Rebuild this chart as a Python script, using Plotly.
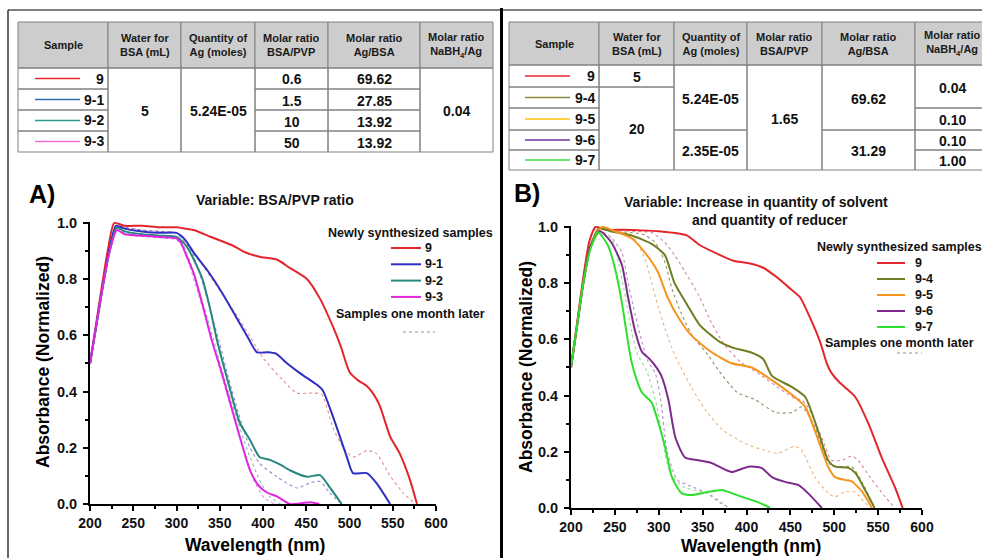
import plotly.graph_objects as go

W, H = 982, 558
FONT = "Liberation Sans"

# ---------------- Panel A spectra (Variable: BSA/PVP ratio) ----------------
wl_a9 = [200, 207, 214, 221, 228, 240, 260, 280, 300, 310, 320, 340, 365, 380, 396, 416, 431, 451, 466, 481, 490, 500, 510, 520, 528, 535, 547, 558, 570, 578]
ab_a9 = [0.50, 0.64, 0.78, 0.91, 1.00, 0.99, 0.99, 0.985, 0.985, 0.98, 0.975, 0.95, 0.92, 0.895, 0.88, 0.87, 0.84, 0.80, 0.73, 0.63, 0.56, 0.47, 0.44, 0.42, 0.39, 0.35, 0.24, 0.18, 0.085, 0.0]

wl_a91 = [200, 207, 214, 222, 230, 240, 260, 280, 300, 305, 310, 321, 336, 353, 368, 383, 393, 405, 415, 428, 443, 462, 469, 481, 497, 504, 520, 531, 547]
ab_a91 = [0.50, 0.63, 0.76, 0.90, 0.99, 0.98, 0.97, 0.965, 0.965, 0.955, 0.94, 0.89, 0.83, 0.75, 0.67, 0.59, 0.54, 0.54, 0.535, 0.50, 0.465, 0.425, 0.405, 0.31, 0.167, 0.11, 0.11, 0.075, 0.0]

wl_a92 = [200, 207, 214, 222, 231, 240, 260, 280, 300, 308, 313, 320, 330, 340, 347, 360, 373, 385, 396, 408, 420, 431, 451, 466, 477, 491]
ab_a92 = [0.50, 0.63, 0.76, 0.89, 0.985, 0.97, 0.96, 0.955, 0.95, 0.93, 0.91, 0.87, 0.80, 0.68, 0.58, 0.43, 0.29, 0.228, 0.167, 0.157, 0.14, 0.12, 0.097, 0.103, 0.06, 0.0]

wl_a93 = [200, 207, 214, 222, 231, 240, 260, 280, 300, 305, 312, 320, 330, 341, 352, 363, 374, 385, 395, 405, 416, 431, 445, 455, 465]
ab_a93 = [0.50, 0.63, 0.76, 0.89, 0.975, 0.96, 0.955, 0.95, 0.945, 0.93, 0.88, 0.82, 0.71, 0.58, 0.47, 0.35, 0.23, 0.12, 0.065, 0.04, 0.027, 0.0, 0.003, 0.006, 0.0]

# one month later
wl_a9d = [200, 207, 214, 221, 228, 240, 260, 280, 300, 310, 330, 350, 370, 390, 400, 423, 439, 458, 468, 481, 493, 504, 520, 531, 547, 562, 576]
ab_a9d = [0.50, 0.64, 0.78, 0.91, 1.00, 0.985, 0.975, 0.97, 0.965, 0.93, 0.85, 0.76, 0.67, 0.57, 0.52, 0.44, 0.395, 0.395, 0.39, 0.27, 0.20, 0.167, 0.19, 0.18, 0.10, 0.04, 0.0]

wl_a91d = [200, 207, 214, 222, 230, 240, 260, 280, 300, 310, 320, 330, 340, 350, 360, 372, 385, 396, 416, 439, 454, 466, 477, 491]
ab_a91d = [0.50, 0.63, 0.76, 0.90, 0.99, 0.985, 0.975, 0.97, 0.965, 0.94, 0.88, 0.79, 0.68, 0.57, 0.45, 0.32, 0.20, 0.145, 0.097, 0.057, 0.075, 0.08, 0.04, 0.0]

wl_a92d = [200, 207, 214, 222, 231, 240, 260, 280, 300, 308, 316, 326, 336, 345, 355, 368, 381, 396, 408, 420]
ab_a92d = [0.50, 0.63, 0.76, 0.89, 0.98, 0.965, 0.955, 0.95, 0.945, 0.92, 0.86, 0.76, 0.66, 0.56, 0.45, 0.32, 0.20, 0.085, 0.025, 0.0]

wl_a93d = [200, 207, 214, 222, 231, 240, 260, 280, 300, 306, 314, 324, 334, 343, 352, 364, 378, 390, 402, 414]
ab_a93d = [0.50, 0.63, 0.76, 0.89, 0.975, 0.96, 0.952, 0.948, 0.94, 0.92, 0.86, 0.76, 0.66, 0.56, 0.46, 0.33, 0.19, 0.08, 0.02, 0.0]

# ---------------- Panel B spectra (solvent / reducer) ----------------
wl_b9 = [200, 207, 214, 221, 228, 240, 260, 280, 300, 315, 332, 347, 370, 385, 404, 419, 435, 450, 461, 472, 484, 492, 497, 505, 512, 524, 539, 554, 569, 578]
ab_b9 = [0.50, 0.66, 0.82, 0.95, 1.00, 0.99, 0.99, 0.988, 0.985, 0.98, 0.97, 0.935, 0.90, 0.88, 0.87, 0.855, 0.82, 0.78, 0.75, 0.68, 0.59, 0.51, 0.48, 0.45, 0.43, 0.395, 0.30, 0.18, 0.075, 0.0]

wl_b94 = [200, 207, 214, 222, 232, 245, 269, 292, 307, 318, 333, 347, 370, 385, 404, 419, 429, 452, 467, 482, 493, 501, 516, 524, 535, 546]
ab_b94 = [0.50, 0.65, 0.80, 0.93, 0.995, 0.985, 0.97, 0.94, 0.90, 0.80, 0.72, 0.65, 0.59, 0.57, 0.555, 0.53, 0.47, 0.43, 0.395, 0.27, 0.17, 0.147, 0.143, 0.125, 0.065, 0.0]

wl_b95 = [200, 207, 214, 222, 235, 250, 269, 284, 299, 310, 322, 337, 360, 383, 406, 429, 455, 467, 482, 493, 501, 512, 520, 532, 543]
ab_b95 = [0.50, 0.65, 0.80, 0.93, 1.00, 0.985, 0.96, 0.91, 0.84, 0.75, 0.68, 0.615, 0.555, 0.515, 0.50, 0.455, 0.395, 0.36, 0.24, 0.147, 0.11, 0.10, 0.095, 0.057, 0.0]

wl_b96 = [200, 207, 214, 222, 233, 246, 258, 265, 273, 281, 288, 295, 303, 311, 319, 330, 345, 360, 383, 402, 417, 429, 444, 459, 470, 486]
ab_b96 = [0.50, 0.65, 0.80, 0.93, 0.985, 0.945, 0.865, 0.75, 0.63, 0.555, 0.535, 0.51, 0.47, 0.385, 0.25, 0.18, 0.17, 0.16, 0.128, 0.147, 0.143, 0.11, 0.093, 0.082, 0.053, 0.0]

wl_b97 = [200, 207, 214, 222, 231, 242, 250, 258, 265, 269, 275, 281, 292, 299, 307, 315, 326, 338, 356, 372, 383, 398, 413, 427]
ab_b97 = [0.50, 0.65, 0.80, 0.92, 0.98, 0.935, 0.855, 0.73, 0.59, 0.52, 0.455, 0.41, 0.375, 0.31, 0.22, 0.11, 0.053, 0.046, 0.057, 0.064, 0.053, 0.036, 0.021, 0.0]

# one month later
wl_b9d = [200, 207, 214, 221, 229, 245, 270, 292, 307, 318, 330, 345, 360, 375, 393, 413, 440, 455, 463, 470, 486, 497, 509, 520, 527, 543, 558, 569]
ab_b9d = [0.50, 0.66, 0.82, 0.95, 1.00, 0.99, 0.985, 0.98, 0.945, 0.90, 0.84, 0.76, 0.66, 0.58, 0.52, 0.48, 0.42, 0.39, 0.385, 0.36, 0.25, 0.17, 0.17, 0.185, 0.17, 0.10, 0.04, 0.0]

wl_b94d = [200, 207, 214, 222, 232, 250, 268, 281, 296, 307, 315, 326, 338, 356, 368, 390, 410, 433, 452, 463, 478, 493, 504, 520, 532, 546]
ab_b94d = [0.50, 0.65, 0.80, 0.93, 0.995, 0.985, 0.98, 0.975, 0.945, 0.875, 0.78, 0.69, 0.615, 0.545, 0.49, 0.41, 0.385, 0.34, 0.34, 0.36, 0.29, 0.16, 0.147, 0.147, 0.09, 0.0]

wl_b95d = [200, 207, 214, 222, 235, 250, 269, 284, 292, 299, 307, 315, 322, 337, 353, 372, 398, 421, 436, 455, 463, 478, 493, 501, 512, 524, 535, 543]
ab_b95d = [0.50, 0.65, 0.80, 0.93, 1.00, 0.985, 0.97, 0.89, 0.80, 0.72, 0.64, 0.57, 0.52, 0.43, 0.35, 0.28, 0.23, 0.205, 0.195, 0.22, 0.205, 0.11, 0.053, 0.04, 0.057, 0.057, 0.018, 0.0]

wl_b96d = [200, 207, 214, 222, 233, 245, 258, 265, 273, 281, 288, 296, 303, 309, 321, 339, 355, 370, 381]
ab_b96d = [0.50, 0.65, 0.80, 0.93, 0.985, 0.965, 0.91, 0.80, 0.69, 0.59, 0.52, 0.48, 0.37, 0.21, 0.10, 0.075, 0.053, 0.018, 0.0]

wl_b97d = [200, 207, 214, 222, 231, 246, 254, 262, 269, 276, 286, 298, 305, 313, 328, 355, 373, 380]
ab_b97d = [0.50, 0.65, 0.80, 0.92, 0.98, 0.96, 0.875, 0.75, 0.63, 0.545, 0.49, 0.36, 0.23, 0.125, 0.075, 0.053, 0.018, 0.0]

# ---------------- Tables ----------------
table_headers = ["Sample", "Water for<br>BSA (mL)", "Quantity of<br>Ag (moles)",
                 "Molar ratio<br>BSA/PVP", "Molar ratio<br>Ag/BSA", "Molar ratio<br>NaBH<sub>4</sub>/Ag"]

samples_a = ["9", "9-1", "9-2", "9-3"]
swatch_a = ["#e8262c", "#2e6db4", "#2a9d96", "#f26bd0"]
water_a = "5"
quantity_a = "5.24E-05"
bsa_pvp_a = ["0.6", "1.5", "10", "50"]
ag_bsa_a = ["69.62", "27.85", "13.92", "13.92"]
nabh4_a = "0.04"

samples_b = ["9", "9-4", "9-5", "9-6", "9-7"]
swatch_b = ["#e8262c", "#8c8c3c", "#ffc000", "#7030a0", "#33e033"]
water_b = [("5", 0, 1), ("20", 1, 5)]
quantity_b = [("5.24E-05", 0, 3), ("2.35E-05", 3, 5)]
bsa_pvp_b = [("1.65", 0, 5)]
ag_bsa_b = [("69.62", 0, 3), ("31.29", 3, 5)]
nabh4_b = [("0.04", 0, 2), ("0.10", 2, 3), ("0.10", 3, 4), ("1.00", 4, 5)]

fig = go.Figure()


def px(x):
    return x / W


def py(y):
    return 1 - y / H


def text(x, y, s, size, anchor="center", color="#111111", angle=0):
    fig.add_annotation(x=px(x), y=py(y), xref="paper", yref="paper", text="<b>" + s + "</b>",
                       showarrow=False, xanchor=anchor, yanchor="middle", textangle=angle,
                       font=dict(family=FONT, size=size, color=color))


def seg(x0, y0, x1, y1, color="black", width=1, dash="solid"):
    fig.add_shape(type="line", xref="paper", yref="paper", x0=px(x0), y0=py(y0), x1=px(x1), y1=py(y1),
                  line=dict(color=color, width=width, dash=dash))


def box(x0, y0, x1, y1, fill=None):
    fig.add_shape(type="rect", xref="paper", yref="paper", x0=px(x0), y0=py(y0), x1=px(x1), y1=py(y1),
                  line=dict(color="#808080", width=1), fillcolor=fill if fill else "rgba(0,0,0,0)", layer="below")


def draw_table(cols, rows, samples, swatches, sw_x, columns):
    # header
    for i, h in enumerate(table_headers):
        box(cols[i], rows[0], cols[i + 1], rows[1], fill="#cdcdcd")
        cx = (cols[i] + cols[i + 1]) / 2
        text(cx, (rows[0] + rows[1]) / 2, h, 11, color="#1a1a1a")
    # sample column
    for r, (s, c) in enumerate(zip(samples, swatches)):
        y0, y1 = rows[r + 1], rows[r + 2]
        box(cols[0], y0, cols[1], y1)
        ym = (y0 + y1) / 2
        seg(sw_x[0], ym, sw_x[1], ym, color=c, width=1.5)
        text(cols[1] - 2, ym, s, 14, anchor="right")
    # remaining columns with merged cells
    for ci, cells in enumerate(columns, start=1):
        for (s, r0, r1) in cells:
            y0, y1 = rows[r0 + 1], rows[r1 + 1]
            box(cols[ci], y0, cols[ci + 1], y1)
            text((cols[ci] + cols[ci + 1]) / 2, (y0 + y1) / 2 + 1, s, 14)


n_a = len(samples_a)
draw_table([18, 108, 181, 255, 328, 420, 493], [22, 68, 89, 110, 131, 152], samples_a, swatch_a, (35, 80),
           [[(water_a, 0, n_a)], [(quantity_a, 0, n_a)],
            [(v, i, i + 1) for i, v in enumerate(bsa_pvp_a)],
            [(v, i, i + 1) for i, v in enumerate(ag_bsa_a)],
            [(nabh4_a, 0, n_a)]])
draw_table([509, 599, 674, 747, 822, 915, 990], [22, 65, 87, 108, 130, 150, 170], samples_b, swatch_b, (525, 570),
           [water_b, quantity_b, bsa_pvp_b, ag_bsa_b, nabh4_b])

# ---------------- Spectra ----------------
def curve(xa, ya, x, y, color, width, dash="solid"):
    fig.add_trace(go.Scatter(x=x, y=y, mode="lines", xaxis=xa, yaxis=ya, showlegend=False, hoverinfo="skip",
                             line=dict(color=color, width=width, dash=dash, shape="spline", smoothing=0.6)))


cols_a = {"9": "#e3262b", "9-1": "#2f2fc4", "9-2": "#26877c", "9-3": "#e026e0"}
dots_a = {"9": "#e69090", "9-1": "#8888d6", "9-2": "#80c0b6", "9-3": "#e690e6"}
cols_b = {"9": "#e3262b", "9-4": "#6f7d23", "9-5": "#f7941d", "9-6": "#7d2b8b", "9-7": "#2ee02e"}
dots_b = {"9": "#d8879f", "9-4": "#8e9466", "9-5": "#ebb57a", "9-6": "#b98cc8", "9-7": "#8fdf8f"}

series_a = {"9": (wl_a9, ab_a9, wl_a9d, ab_a9d), "9-1": (wl_a91, ab_a91, wl_a91d, ab_a91d),
            "9-2": (wl_a92, ab_a92, wl_a92d, ab_a92d), "9-3": (wl_a93, ab_a93, wl_a93d, ab_a93d)}
series_b = {"9": (wl_b9, ab_b9, wl_b9d, ab_b9d), "9-4": (wl_b94, ab_b94, wl_b94d, ab_b94d),
            "9-5": (wl_b95, ab_b95, wl_b95d, ab_b95d), "9-6": (wl_b96, ab_b96, wl_b96d, ab_b96d),
            "9-7": (wl_b97, ab_b97, wl_b97d, ab_b97d)}

for k, (x, y, xd, yd) in series_a.items():
    curve("x", "y", xd, yd, dots_a[k], 1.1, "dot")
for k, (x, y, xd, yd) in series_b.items():
    curve("x2", "y2", xd, yd, dots_b[k], 1.1, "dot")
for k, (x, y, xd, yd) in series_a.items():
    curve("x", "y", x, y, cols_a[k], 2)
for k, (x, y, xd, yd) in series_b.items():
    curve("x2", "y2", x, y, cols_b[k], 2)

# ---------------- Axes ----------------
YTOP = 1.005
UNIT = 281


def xaxis(x0, x1):
    return dict(domain=[px(x0), px(x1)], range=[200, 600], tickvals=[200, 250, 300, 350, 400, 450, 500, 550, 600],
                ticks="outside", ticklen=5, tickwidth=2, tickcolor="black", showline=True, linewidth=2,
                linecolor="black", showgrid=False, zeroline=False, fixedrange=True, automargin=False,
                minor=dict(dtick=25, tick0=200, ticks="outside", ticklen=3, tickwidth=1.5, tickcolor="black"),
                tickfont=dict(family=FONT, size=14, color="#111111", weight="bold"))


def yaxis(y0, anchor):
    return dict(domain=[py(y0), py(y0 - UNIT * YTOP)], range=[0, YTOP], anchor=anchor,
                tickvals=[0, 0.2, 0.4, 0.6, 0.8, 1.0], tickformat=".1f", ticklabelstandoff=3,
                ticks="outside", ticklen=5, tickwidth=2, tickcolor="black", showline=True, linewidth=2,
                linecolor="black", showgrid=False, zeroline=False, fixedrange=True, automargin=False,
                minor=dict(dtick=0.1, tick0=0, ticks="outside", ticklen=3, tickwidth=1.5, tickcolor="black"),
                tickfont=dict(family=FONT, size=14.5, color="#111111", weight="bold"))


fig.update_layout(
    width=W, height=H, autosize=False,
    # texts that run past the right edge are clipped there instead of shrinking the drawing
    margin=dict(l=0, r=0, t=0, b=0, autoexpand=False),
    paper_bgcolor="white", plot_bgcolor="white",
    xaxis=dict(xaxis(90, 436), anchor="y"),
    yaxis=yaxis(504, "x"),
    xaxis2=dict(xaxis(571, 922), anchor="y2"),
    yaxis2=yaxis(508, "x2"),
)

# ---------------- Panel frames ----------------
seg(8, 10, 500, 10, width=1.2)
seg(8, 10, 8, 558, width=1.2)
seg(503, 10, 982, 10, width=1.2)
seg(501.5, 8, 501.5, 558, width=3)

# ---------------- Labels and titles ----------------
text(42, 194, "A)", 25, color="black")
text(527, 193, "B)", 25, color="black")
text(275, 200, "Variable: BSA/PVP ratio", 14)
text(756, 202, "Variable: Increase in quantity of solvent", 14)
text(770, 220, "and quantity of reducer", 14)

text(255, 545, "Wavelength (nm)", 17.5, color="black")
text(751, 546, "Wavelength (nm)", 17.5, color="black")
text(43, 362, "Absorbance (Normalized)", 17.5, color="black", angle=-90)
text(526, 367, "Absorbance (Normalized)", 17.5, color="black", angle=-90)

# ---------------- Legends ----------------
text(410, 233, "Newly synthesized samples", 12.5)
for i, k in enumerate(samples_a):
    yy = 248 + i * 16.3
    seg(391, yy, 421, yy, color=cols_a[k], width=2)
    text(423, yy, k, 12.5, anchor="left")
text(410, 314, "Samples one month later", 12.5)
seg(403, 332, 435, 332, color="#909090", width=1, dash="dot")

text(815, 247, "Newly synthesized samples", 12.5, anchor="left")
for i, k in enumerate(samples_b):
    yy = 263 + i * 16
    seg(877, yy, 905, yy, color=cols_b[k], width=2)
    text(913, yy, k, 12.5, anchor="left")
text(823, 343, "Samples one month later", 12.5, anchor="left")
seg(897, 353, 922, 353, color="#909090", width=1, dash="dot")

fig.write_html("out.html")
